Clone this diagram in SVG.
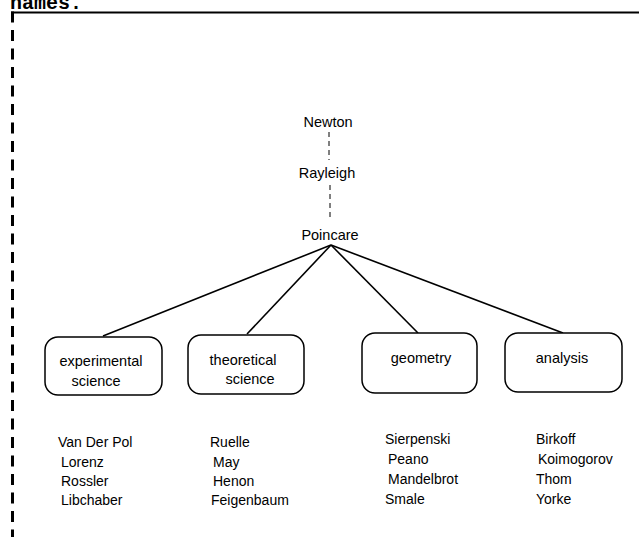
<svg xmlns="http://www.w3.org/2000/svg" width="639" height="537" viewBox="0 0 639 537">
<style>
text{font-family:"Liberation Sans",Arial,sans-serif;font-size:14.5px;fill:#000}
.nm{font-size:14px}
.box{fill:#fff;stroke:#000;stroke-width:1.5}
.edge{stroke:#000;stroke-width:1.6;fill:none}
.dash{stroke:#000;stroke-width:1;stroke-dasharray:5 4;fill:none}
.mid{text-anchor:middle}
</style>
<rect width="639" height="537" fill="#fff"/>
<text x="10" y="9" style="font-family:'Liberation Mono',monospace;font-weight:bold;font-size:20px">names.</text>
<g id="frame">
<line x1="11" y1="12.5" x2="639" y2="12.5" stroke="#000" stroke-width="2"/>
<line x1="12.5" y1="11.5" x2="12.5" y2="537" stroke="#000" stroke-width="3" stroke-dasharray="11 7.5"/>
</g>
<g id="connectors">
<line class="dash" x1="329" y1="132" x2="329" y2="160"/>
<line class="dash" x1="330" y1="185" x2="330" y2="217"/>
<line class="edge" x1="331" y1="245" x2="103" y2="336"/>
<line class="edge" x1="331" y1="245" x2="247" y2="334"/>
<line class="edge" x1="331" y1="245" x2="418" y2="333"/>
<line class="edge" x1="331" y1="245" x2="563" y2="333"/>
</g>
<g id="newton"><text class="mid" x="328" y="127">Newton</text></g>
<g id="rayleigh"><text class="mid" x="327" y="178">Rayleigh</text></g>
<g id="poincare"><text class="mid" x="330" y="240">Poincare</text></g>
<g id="experimental">
<rect class="box" x="45" y="337" width="117" height="58" rx="13"/>
<text class="mid" x="101" y="366">experimental</text>
<text class="mid" x="96" y="386">science</text>
</g>
<g id="theoretical">
<rect class="box" x="188" y="335" width="116" height="59" rx="13"/>
<text class="mid" x="243" y="365">theoretical</text>
<text class="mid" x="250" y="384">science</text>
</g>
<g id="geometry">
<rect class="box" x="362" y="333" width="115" height="60" rx="13"/>
<text class="mid" x="421" y="363">geometry</text>
</g>
<g id="analysis">
<rect class="box" x="505" y="333" width="117" height="59" rx="13"/>
<text class="mid" x="562" y="363">analysis</text>
</g>
<g id="experimental-names">
<text class="nm" x="58" y="447">Van Der Pol</text>
<text class="nm" x="61" y="467">Lorenz</text>
<text class="nm" x="61" y="486">Rossler</text>
<text class="nm" x="61" y="505">Libchaber</text>
</g>
<g id="theoretical-names">
<text class="nm" x="210" y="447">Ruelle</text>
<text class="nm" x="213" y="467">May</text>
<text class="nm" x="213" y="486">Henon</text>
<text class="nm" x="211" y="505">Feigenbaum</text>
</g>
<g id="geometry-names">
<text class="nm" x="385" y="444">Sierpenski</text>
<text class="nm" x="388" y="464">Peano</text>
<text class="nm" x="388" y="484">Mandelbrot</text>
<text class="nm" x="385" y="504">Smale</text>
</g>
<g id="analysis-names">
<text class="nm" x="536" y="444">Birkoff</text>
<text class="nm" x="538" y="464">Koimogorov</text>
<text class="nm" x="536" y="484">Thom</text>
<text class="nm" x="536" y="504">Yorke</text>
</g>
</svg>
